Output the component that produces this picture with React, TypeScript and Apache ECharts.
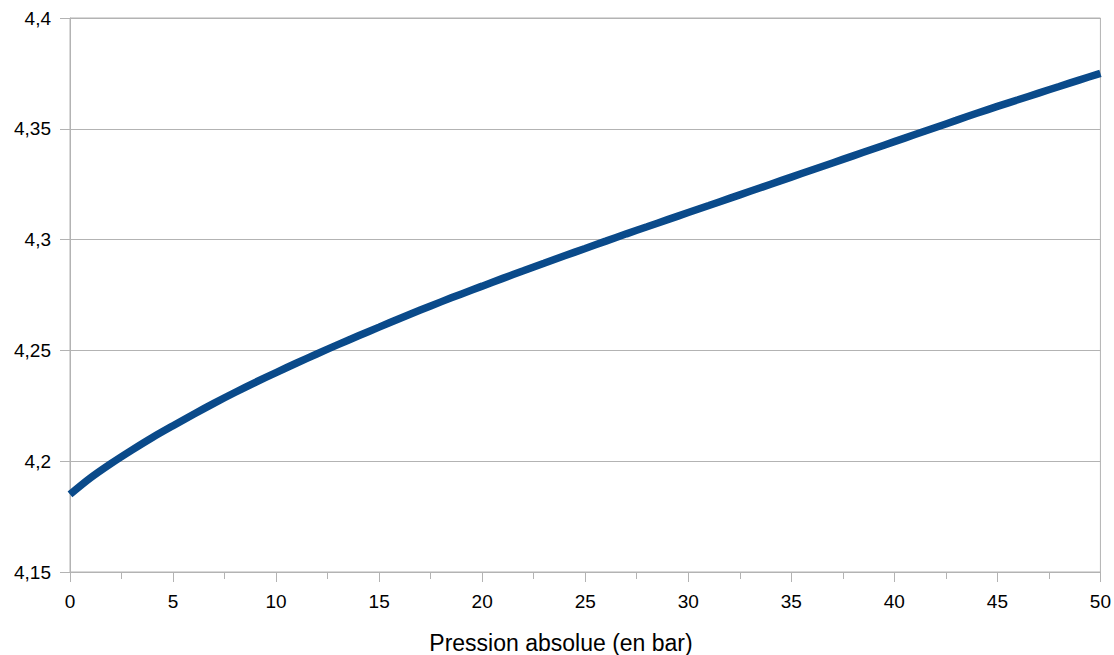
import React, { useEffect, useRef } from "react";
import * as echarts from "echarts";

const pressure = [
  0, 1, 2, 3, 4, 5, 6, 7, 8, 9, 10, 11, 12, 13, 14, 15, 16, 17, 18, 19, 20,
  21, 22, 23, 24, 25, 26, 27, 28, 29, 30, 31, 32, 33, 34, 35, 36, 37, 38, 39,
  40, 41, 42, 43, 44, 45, 46, 47, 48, 49, 50,
];
const values = [
  4.185, 4.1925, 4.199, 4.205, 4.2107, 4.216, 4.2212, 4.2262, 4.231, 4.2356,
  4.24, 4.2443, 4.2485, 4.2526, 4.2566, 4.2605, 4.2644, 4.2682, 4.2719, 4.2755,
  4.279, 4.2825, 4.2859, 4.2893, 4.2927, 4.296, 4.2993, 4.3026, 4.3058, 4.309,
  4.3122, 4.3154, 4.3186, 4.3218, 4.325, 4.3282, 4.3314, 4.3346, 4.3378, 4.341,
  4.3442, 4.3474, 4.3506, 4.3538, 4.357, 4.3601, 4.3631, 4.3661, 4.3691, 4.3721,
  4.375,
];
const xTitle = "Pression absolue (en bar)";

export default function App() {
  const ref = useRef<HTMLDivElement>(null);
  useEffect(() => {
    if (!ref.current) return;
    document.body.style.overflow = "hidden";
    const chart = echarts.init(ref.current, null, { renderer: "svg" });
    const font = "'Liberation Sans', Arial, sans-serif";
    chart.setOption({
      animation: false,
      backgroundColor: "#ffffff",
      grid: {
        left: 70,
        top: 18,
        right: 13,
        bottom: 83,
        show: true,
        borderColor: "#b3b3b3",
        borderWidth: 1,
      },
      xAxis: {
        type: "value",
        min: 0,
        max: 50,
        interval: 5,
        axisLine: { lineStyle: { color: "#b3b3b3", width: 1 } },
        axisTick: { show: true, length: 10, lineStyle: { color: "#b3b3b3" } },
        minorTick: { show: true, splitNumber: 2, length: 7, lineStyle: { color: "#b3b3b3" } },
        splitLine: { show: false },
        axisLabel: { color: "#000", fontSize: 19, fontFamily: font, margin: 20 },
      },
      yAxis: {
        type: "value",
        min: 4.15,
        max: 4.4,
        interval: 0.05,
        axisLine: { show: true, lineStyle: { color: "#b3b3b3", width: 1 } },
        axisTick: { show: true, length: 10, lineStyle: { color: "#b3b3b3" } },
        splitLine: { show: true, lineStyle: { color: "#b3b3b3", width: 1 } },
        axisLabel: {
          color: "#000",
          fontSize: 19,
          fontFamily: font,
          margin: 19,
          formatter: (v: number) => String(Math.round(v * 100) / 100).replace(".", ","),
        },
      },
      graphic: [
        {
          type: "text",
          x: 561,
          y: 643,
          style: {
            text: xTitle,
            fill: "#000",
            fontSize: 23,
            fontFamily: font,
            textAlign: "center",
            textVerticalAlign: "middle",
          },
        },
      ],
      series: [
        {
          type: "line",
          data: pressure.map((p, i) => [p, values[i]]),
          showSymbol: false,
          symbol: "none",
          smooth: 0.3,
          lineStyle: { color: "#0a4a8a", width: 7.5 },
          itemStyle: { color: "#0a4a8a" },
        },
      ],
    });
    return () => chart.dispose();
  }, []);
  return (
    <div
      ref={ref}
      style={{ position: "absolute", left: 0, top: 0, width: 1114, height: 655 }}
    />
  );
}
